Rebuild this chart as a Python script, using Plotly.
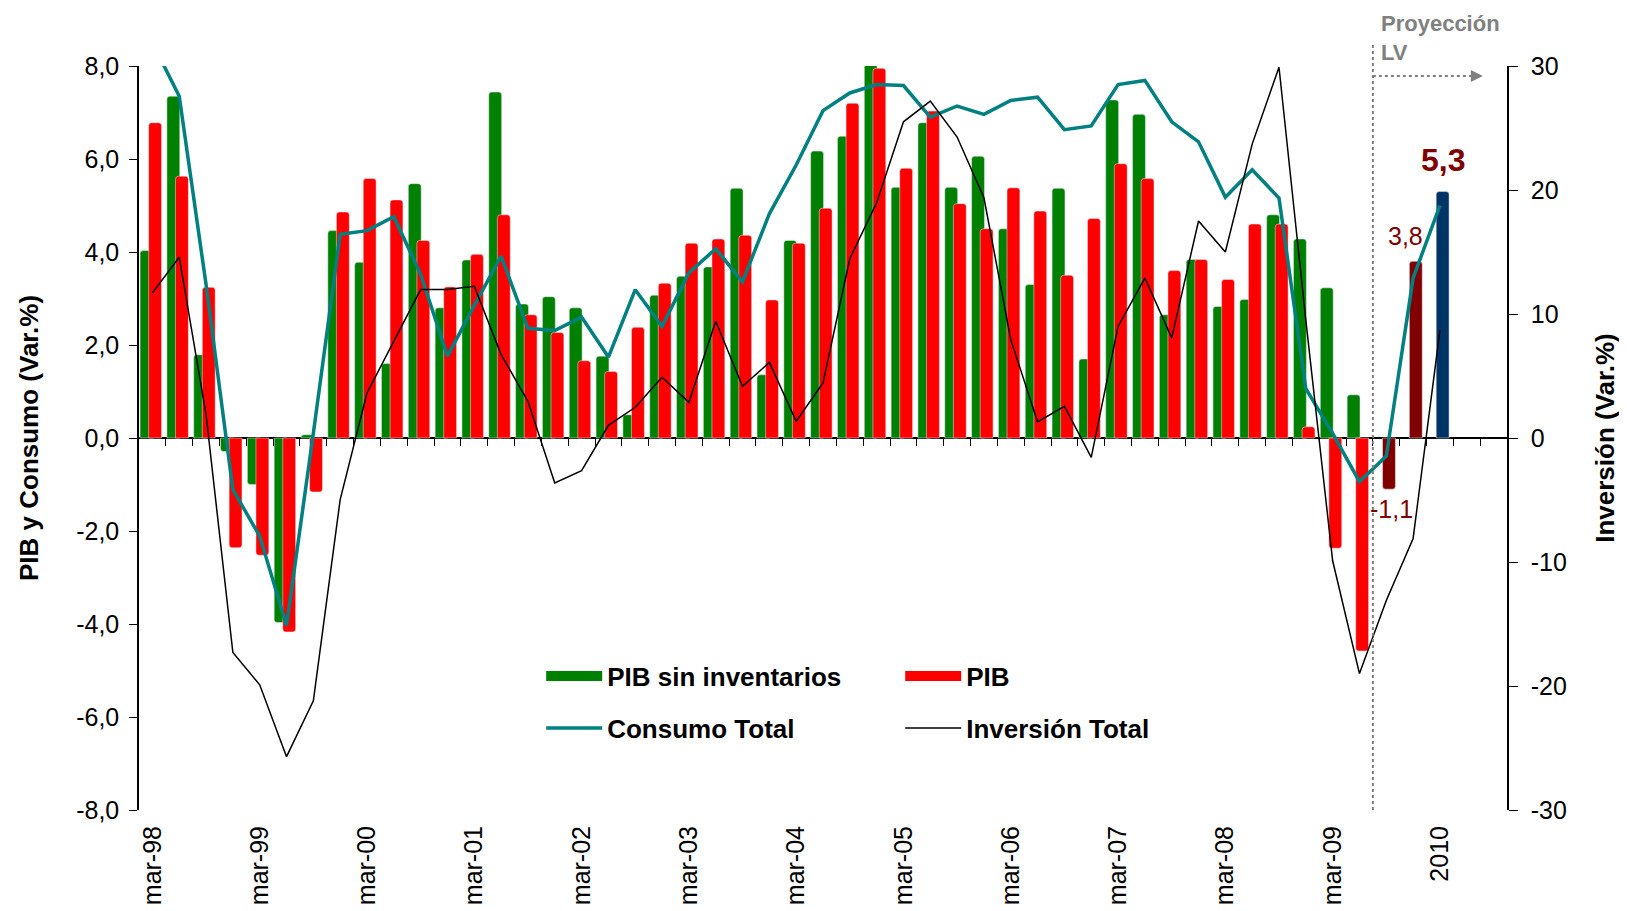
import plotly.graph_objects as go

# quarterly categories mar-98 ... dic-09, plus the 2010 projection
quarters = [f"{m}-{y:02d}" for y in (98, 99, 0, 1, 2, 3, 4, 5, 6, 7, 8, 9)
            for m in ("mar", "jun", "sep", "dic")] + ["2010"]

pib_sin_inv = [4.03, 7.35, 1.79, -0.29, -1.0, -3.97, 0.07, 4.46, 3.78, 1.6, 5.47, 2.8,
               3.83, 7.44, 2.88, 3.04, 2.8, 1.76, 0.5, 3.07, 3.48, 3.68, 5.37, 1.36,
               4.25, 6.17, 6.49, 8.03, 5.39, 6.78, 5.39, 6.06, 4.5, 3.3, 5.37, 1.7,
               7.27, 6.96, 2.65, 3.84, 2.83, 2.98, 4.8, 4.28, 3.23, 0.93, None, None, None]

pib = [6.78, 5.63, 3.24, -2.36, -2.52, -4.17, -1.16, 4.86, 5.58, 5.12, 4.25, 3.25,
       3.95, 4.8, 2.65, 2.27, 1.66, 1.43, 2.38, 3.33, 4.19, 4.28, 4.36, 2.97,
       4.19, 4.94, 7.2, 7.95, 5.8, 7.03, 5.04, 4.5, 5.38, 4.88, 3.5, 4.72,
       5.9, 5.58, 3.6, 3.84, 3.41, 4.6, 4.6, 0.24, -2.37, -4.58, -1.1, 3.8, 5.3]

consumo = [8.5, 7.35, 3.3, -1.11, -2.11, -4.03, 0.1, 4.38, 4.46, 4.76, 3.52, 1.76,
           2.85, 3.91, 2.36, 2.31, 2.6, 1.74, 3.19, 2.4, 3.55, 4.07, 3.36, 4.82,
           5.87, 7.04, 7.42, 7.6, 7.58, 6.9, 7.14, 6.96, 7.26, 7.33, 6.63, 6.71,
           7.6, 7.69, 6.8, 6.37, 5.18, 5.77, 5.16, 1.06, 0.1, -0.94, -0.39, 3.44, 5.0]

inversion = [11.7, 14.58, 1.88, -17.3, -19.9, -25.7, -21.2, -4.97, 3.63, 7.8, 11.97, 11.97,
             12.24, 6.73, 2.96, -3.63, -2.63, 1.02, 2.48, 4.9, 2.88, 9.42, 4.17, 6.1,
             1.35, 4.44, 14.47, 18.97, 25.5, 27.17, 24.27, 19.37, 7.94, 1.29, 2.56, -1.56,
             9.0, 12.9, 8.07, 17.5, 15.0, 23.7, 29.9, 9.5, -9.9, -19.0, -13.1, -8.1, 8.7]

left_ticks = [-8, -6, -4, -2, 0, 2, 4, 6, 8]
right_ticks = [-30, -20, -10, 0, 10, 20, 30]

n_hist = 46  # quarters with observed data (up to jun-09)
proj_start = n_hist - 0.5

tick_labels = [q for q in quarters if q.startswith("mar")] + ["2010"]


def coma(v, dec=1):
    return f"{v:.{dec}f}".replace(".", ",")


FONT = "Liberation Sans, Arial, sans-serif"
GREEN, RED, TEAL = "#008000", "#FF0000", "#008080"
pib_colors = [RED] * n_hist + ["#800000"] * 2 + ["#003366"]

fig = go.Figure()

fig.add_bar(
    x=quarters, y=pib_sin_inv, name="PIB sin inventarios", showlegend=False,
    marker=dict(color=GREEN, cornerradius=3), width=0.48, offset=-0.46,
)
fig.add_bar(
    x=quarters, y=pib, name="PIB", showlegend=False,
    marker=dict(color=pib_colors, cornerradius=3), width=0.48, offset=-0.14,
)
fig.add_scatter(
    x=quarters, y=consumo, name="Consumo Total", mode="lines",
    line=dict(color=TEAL, width=3.5), legend="legend2",
)
fig.add_scatter(
    x=quarters, y=inversion, name="Inversión Total", mode="lines",
    line=dict(color="#000000", width=1.5), xaxis="x2", yaxis="y2", legend="legend2",
)
# wide legend keys for the bar series (Excel style)
for name, color in (("PIB sin inventarios", GREEN), ("PIB", RED)):
    fig.add_scatter(x=[None], y=[None], name=name, mode="lines",
                    line=dict(color=color, width=18), legend="legend")

# labels on projected bars
i10 = len(quarters) - 1
fig.add_annotation(x=i10, y=pib[i10], text=f"<b>{coma(pib[i10])}</b>",
                   showarrow=False, yanchor="bottom", xshift=3, yshift=12,
                   font=dict(size=32, color="#800000"))
fig.add_annotation(x=i10 - 1, y=pib[i10 - 1], text=coma(pib[i10 - 1]),
                   showarrow=False, xanchor="right", yanchor="middle", xshift=12, yshift=25,
                   font=dict(size=25, color="#800000"))
fig.add_annotation(x=i10 - 2, y=pib[i10 - 2], text=coma(pib[i10 - 2]).replace("−", "-"),
                   showarrow=False, yanchor="middle", xshift=5, yshift=-20,
                   font=dict(size=25, color="#800000"))

# projection marker
fig.add_annotation(x=proj_start, xref="x", y=1.077, yref="paper",
                   text="<b>Proyección</b><br><b>LV</b>", showarrow=False,
                   xanchor="left", yanchor="top", align="left", xshift=6,
                   font=dict(size=22, color="#808080"))
fig.add_shape(type="line", xref="x", yref="paper", x0=proj_start, x1=proj_start,
              y0=0, y1=1.03, line=dict(color="#808080", width=2, dash="dot"))
fig.add_shape(type="line", xref="x", yref="paper", x0=proj_start, x1=49.3,
              y0=0.9866, y1=0.9866, line=dict(color="#808080", width=2, dash="dot"))
fig.add_annotation(x=49.6, xref="x", y=0.9866, yref="paper", text="",
                   showarrow=True, ax=-14, ay=0, arrowhead=2, arrowsize=1.2,
                   arrowwidth=2, arrowcolor="#808080")

legend_style = dict(
    orientation="h", x=0.294, xanchor="left", yanchor="middle",
    entrywidth=288, entrywidthmode="pixels", itemwidth=56,
    font=dict(size=26, weight="bold"), bgcolor="rgba(0,0,0,0)",
)

fig.update_layout(
    width=1627, height=911,
    margin=dict(l=131, r=128, t=58, b=109),
    paper_bgcolor="white", plot_bgcolor="white",
    barmode="overlay",
    font=dict(family=FONT, size=25, color="black"),
    xaxis=dict(
        type="category", range=[-0.5, 50.5], tickmode="array", tickvals=tick_labels,
        tickangle=-90, showline=False, ticks="", showgrid=False, zeroline=False,
        ticklabelstandoff=10, tickfont=dict(size=25),
    ),
    xaxis2=dict(
        matches="x", overlaying="x", anchor="free", position=0.5,
        tickmode="array", tickvals=[i + 0.5 for i in range(50)],
        ticks="outside", ticklen=7, tickcolor="black", showticklabels=False,
        showline=False, showgrid=False, zeroline=False,
    ),
    yaxis=dict(
        range=[-8, 8], tickmode="array", tickvals=left_ticks,
        ticktext=[coma(v) for v in left_ticks], showgrid=False,
        showline=True, linecolor="black", linewidth=1.5,
        ticks="outside", ticklen=8, tickcolor="black", ticklabelstandoff=5,
        zeroline=True, zerolinecolor="black", zerolinewidth=1.5,
        title=dict(text="<b>PIB y Consumo (Var.%)</b>", font=dict(size=26), standoff=30),
    ),
    yaxis2=dict(
        range=[-30, 30], tickmode="array", tickvals=right_ticks,
        ticktext=[str(v) for v in right_ticks], overlaying="y", side="right", anchor="x",
        showgrid=False, zeroline=False, showline=True, linecolor="black", linewidth=1.5,
        ticks="outside", ticklen=9, tickcolor="black", ticklabelstandoff=8,
        title=dict(text="<b>Inversión (Var.%)</b>", font=dict(size=26), standoff=30),
    ),
    legend=dict(legend_style, y=0.18),
    legend2=dict(legend_style, y=0.11),
)

fig.write_html("out.html")
